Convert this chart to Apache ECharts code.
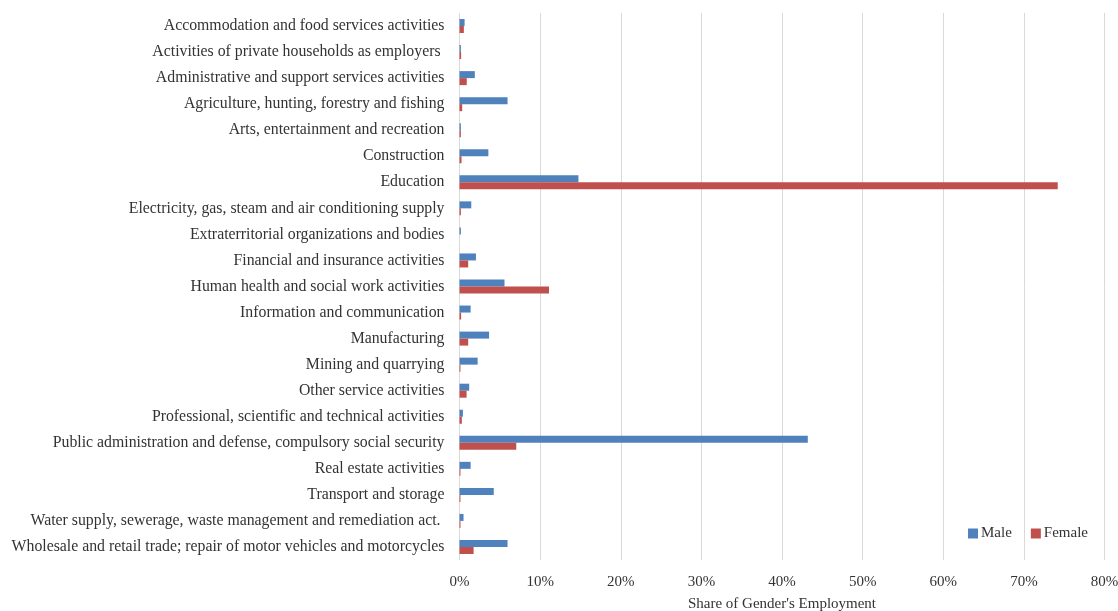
<!DOCTYPE html>
<html><head><meta charset="utf-8">
<script src="https://cdn.jsdelivr.net/npm/echarts@6/dist/echarts.min.js"></script>
<style>html,body{margin:0;padding:0;background:#fff;overflow:hidden}#c{width:1118px;height:611px}</style>
</head><body><div id="c"></div>
<script>
const categories = [
  "Accommodation and food services activities",
  "Activities of private households as employers ",
  "Administrative and support services activities",
  "Agriculture, hunting, forestry and fishing",
  "Arts, entertainment and recreation",
  "Construction",
  "Education",
  "Electricity, gas, steam and air conditioning supply",
  "Extraterritorial organizations and bodies",
  "Financial and insurance activities",
  "Human health and social work activities",
  "Information and communication",
  "Manufacturing",
  "Mining and quarrying",
  "Other service activities",
  "Professional, scientific and technical activities",
  "Public administration and defense, compulsory social security",
  "Real estate activities",
  "Transport and storage",
  "Water supply, sewerage, waste management and remediation act. ",
  "Wholesale and retail trade; repair of motor vehicles and motorcycles"
];
const male = [0.0063,0.0017,0.019,0.0596,0.0017,0.0358,0.1475,0.0146,0.0017,0.0204,0.0558,0.0138,0.0367,0.0225,0.012,0.0042,0.432,0.0138,0.0425,0.005,0.0596];
const female = [0.0054,0.002,0.009,0.0033,0.0017,0.0025,0.742,0.0017,0,0.0108,0.111,0.002,0.0108,0.0012,0.0088,0.0029,0.0704,0.0012,0.0012,0.0012,0.0175];

const font = "'Liberation Serif', serif";
const chart = echarts.init(document.getElementById('c'));
chart.setOption({
  animation:false,
  textStyle:{fontFamily:font},
  grid:{left:459.5,right:13.5,top:13,bottom:51,containLabel:false,outerBoundsMode:'none'},
  legend:{
    data:['Male','Female'], right:25, top:521, itemWidth:10, itemHeight:10, itemGap:19,
    icon:'rect', textStyle:{fontFamily:font,fontSize:15,color:'#333333',padding:[0,0,0,-2]}
  },
  xAxis:{
    type:'value', min:0, max:0.8, interval:0.1,
    axisLine:{show:false}, axisTick:{show:false},
    splitLine:{lineStyle:{color:'#d9d9d9',width:1}},
    axisLabel:{formatter:v=>Math.round(v*100)+'%', fontFamily:font, fontSize:15, color:'#333333', margin:15},
    name:"Share of Gender's Employment", nameLocation:'middle', nameGap:37,
    nameTextStyle:{fontFamily:font,fontSize:15,color:'#333333'}
  },
  yAxis:{
    type:'category', data:categories, inverse:true,
    axisLine:{show:false}, axisTick:{show:false},
    axisLabel:{fontFamily:font,fontSize:15.8,color:'#333333',margin:15}
  },
  series:[
    {name:'Male',type:'bar',data:male,barWidth:7,barGap:'0%',itemStyle:{color:'#4F81BD'}},
    {name:'Female',type:'bar',data:female,barWidth:7,barGap:'0%',itemStyle:{color:'#C0504D'}}
  ]
});
</script></body></html>
